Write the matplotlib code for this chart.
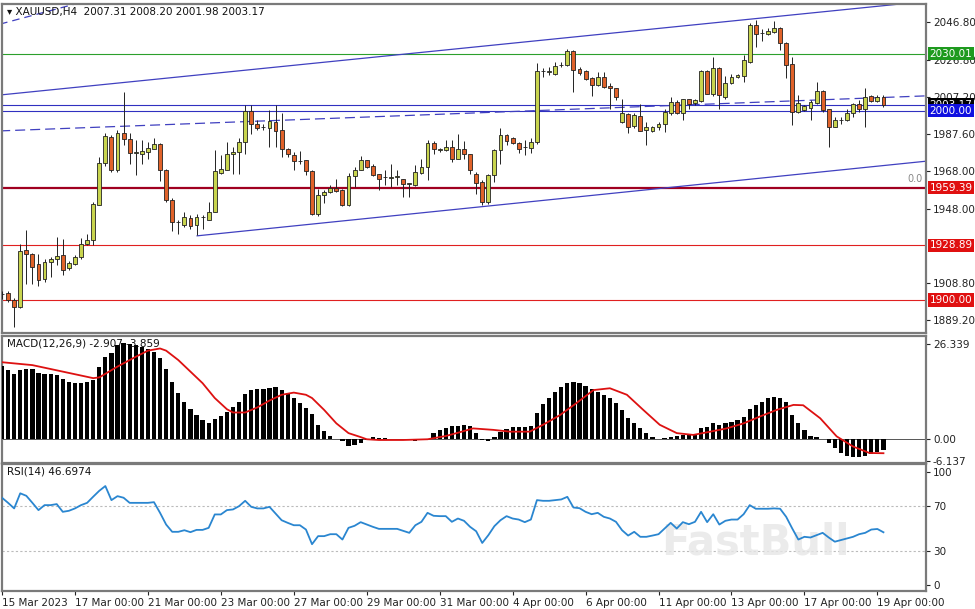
import matplotlib
matplotlib.use("Agg")
import matplotlib.pyplot as plt
import numpy as np

opens = [1903.0,1903.6,1900.1,1896.3,1926.2,1924.4,1919.2,1911.0,1920.0,1921.8,1923.9,1917.0,1919.2,1922.7,1929.7,1931.8,1950.0,1972.6,1986.2,1968.9,
 1988.3,1984.8,1977.7,1977.0,1978.4,1980.0,1982.6,1968.9,1953.0,1941.0,1939.4,1943.5,1939.4,1943.6,1942.4,1946.5,1967.1,1968.9,1977.0,1978.2,
 1983.5,1999.7,1992.9,1991.2,1990.6,1994.0,1989.7,1980.0,1976.5,1973.2,1973.8,1968.2,1945.6,1955.6,1957.0,1959.2,1957.9,1950.0,1965.4,1968.9,
 1973.8,1970.8,1966.4,1964.9,1964.6,1965.0,1963.8,1961.5,1960.6,1967.3,1970.3,1983.0,1979.4,1979.0,1980.9,1974.7,1979.5,1977.0,1966.8,1962.4,
 1951.8,1965.9,1979.1,1987.0,1985.8,1983.0,1980.8,1980.5,1983.5,2020.8,2020.5,2019.6,2024.0,2024.0,2031.6,2021.8,2021.0,2017.0,2013.5,2017.5,
 2012.9,2011.7,1994.1,1998.1,1991.8,1997.1,1989.7,1989.3,1991.4,1993.2,1998.5,2004.7,1998.5,2005.9,2003.8,2005.2,2020.9,2008.7,2022.3,2007.3,
 2014.7,2017.5,2018.2,2025.8,2045.2,2041.0,2040.5,2041.7,2043.5,2035.9,2024.6,1999.4,2000.3,2001.6,2004.1,2010.5,2000.6,1991.4,1995.0,1995.0,
 1998.5,2003.4,2001.1,2007.6,2005.2,2007.31]
highs = [1905.0,1905.0,1901.0,1929.7,1937.1,1924.8,1924.1,1921.8,1922.7,1933.3,1932.4,1920.6,1923.6,1932.9,1935.0,1951.8,1975.6,1988.0,1987.0,1990.0,
 2009.9,1988.3,1984.4,1984.4,1983.5,1985.3,1983.0,1969.4,1954.0,1942.4,1946.5,1944.7,1945.6,1944.7,1951.8,1979.1,1976.5,1983.5,1980.9,1985.3,
 2002.9,2002.9,1995.0,1993.2,2000.3,2002.9,1998.5,1980.5,1978.2,1978.7,1974.0,1968.9,1958.8,1958.0,1960.6,1963.8,1958.8,1967.1,1970.3,1975.9,
 1974.2,1972.0,1966.8,1968.5,1972.0,1968.9,1964.1,1961.9,1971.2,1974.7,1984.4,1984.0,1980.5,1984.4,1984.4,1987.5,1984.0,1977.3,1967.6,1963.2,
 1966.8,1980.0,1990.6,1987.9,1986.1,1983.5,1984.4,1985.3,2024.9,2022.3,2023.2,2025.8,2025.8,2032.3,2032.0,2023.2,2021.4,2017.5,2020.6,2020.6,
 2014.7,2012.2,2006.4,1998.8,1998.5,2003.4,1994.0,1992.0,1994.0,2001.1,2007.3,2005.5,2006.4,2006.4,2006.0,2021.4,2021.4,2028.1,2023.2,2018.2,
 2019.3,2019.5,2029.3,2046.1,2047.9,2042.9,2043.5,2047.5,2044.0,2036.4,2028.1,2008.2,2003.0,2005.5,2015.2,2010.8,2001.1,1996.4,1996.7,2001.1,
 2003.8,2005.5,2011.7,2008.2,2008.2,2008.20]
lows = [1900.5,1898.9,1885.7,1896.0,1908.6,1908.6,1907.3,1909.5,1912.1,1918.3,1913.0,1915.6,1918.3,1921.8,1929.0,1929.0,1950.0,1971.0,1967.5,1967.5,
 1981.7,1972.0,1965.9,1972.0,1974.7,1979.5,1963.0,1951.8,1936.4,1935.0,1938.5,1937.7,1934.1,1937.3,1942.0,1946.5,1966.8,1968.5,1966.8,1966.8,
 1977.3,1987.9,1990.0,1989.7,1980.9,1980.9,1975.6,1975.6,1968.9,1972.0,1965.9,1944.7,1944.2,1951.0,1956.5,1957.0,1949.5,1949.5,1959.7,1968.5,
 1969.9,1965.5,1958.3,1960.6,1959.7,1960.6,1954.4,1954.4,1960.1,1966.8,1963.2,1977.3,1978.0,1978.7,1973.0,1974.5,1974.7,1966.4,1956.2,1950.0,
 1950.9,1962.4,1972.0,1981.7,1982.3,1977.7,1976.5,1977.7,1982.6,2017.5,2018.8,2018.8,2023.2,2023.5,2010.0,2018.8,2016.4,2007.7,2013.0,2011.7,
 2001.1,2005.5,1993.6,1988.3,1990.6,1989.0,1981.7,1988.5,1990.0,1988.8,1997.6,1998.1,1995.3,2001.1,2003.0,2004.7,2008.7,2007.7,2001.1,2006.4,
 2014.2,2017.0,2015.2,2025.0,2033.8,2036.9,2039.9,2041.2,2032.0,2017.0,1992.3,1998.5,1999.8,1995.3,2003.4,1999.4,1980.9,1991.1,1992.9,1994.6,
 1996.7,1999.4,1991.1,2004.7,2004.7,2001.98]
closes = [1903.0,1899.8,1896.3,1925.9,1924.1,1917.7,1910.7,1919.9,1921.8,1923.2,1916.0,1919.8,1922.7,1929.7,1931.8,1950.5,1972.6,1986.5,1968.9,1988.3,
 1984.8,1977.7,1977.9,1978.7,1980.5,1982.6,1968.5,1952.6,1941.2,1941.2,1943.8,1938.9,1943.8,1944.0,1946.5,1968.2,1969.4,1977.0,1978.2,1983.5,
 1999.7,1993.2,1990.6,1991.4,1994.4,1989.3,1980.0,1977.3,1973.3,1973.4,1968.2,1945.6,1955.6,1957.3,1959.2,1957.4,1950.0,1965.4,1968.9,1973.8,
 1970.3,1965.9,1964.1,1965.1,1964.7,1965.1,1961.1,1961.6,1967.6,1970.3,1983.0,1979.5,1979.5,1980.9,1974.7,1980.0,1977.0,1968.9,1961.8,1951.8,
 1965.9,1979.1,1987.0,1984.0,1983.0,1980.0,1980.9,1983.5,2020.9,2020.9,2020.6,2023.5,2024.1,2031.6,2021.4,2020.0,2016.8,2013.5,2017.5,2012.6,
 2011.7,2007.3,1998.5,1991.4,1997.6,1989.3,1991.4,1991.4,1993.2,1999.4,2004.7,1998.5,2005.9,2003.4,2005.5,2020.9,2009.0,2022.3,2008.2,2014.7,
 2017.5,2018.8,2026.7,2045.2,2040.5,2041.2,2042.2,2043.5,2035.9,2024.0,1999.4,2004.1,2002.3,2004.7,2010.5,2000.3,1991.4,1995.3,1995.1,1998.5,
 2003.4,2001.1,2007.3,2005.2,2007.3,2003.17]

macd = [20.3,19.2,18.0,19.2,19.5,19.3,18.4,18.1,18.1,17.7,16.6,15.9,15.5,15.5,15.7,16.4,19.9,22.8,23.8,26.1,
 26.5,26.3,26.1,25.6,24.9,24.2,22.4,19.3,15.9,12.7,10.4,8.3,6.7,5.3,4.4,5.5,6.4,7.6,9.0,10.4,
 12.5,13.5,13.8,14.0,14.1,14.4,13.6,12.7,11.3,9.9,8.6,7.0,3.9,2.2,0.9,0.0,-0.55,-1.8,-1.7,-1.1,
 -0.2,0.55,0.4,0.4,0.0,0.0,0.0,0.2,-0.55,-0.2,0.0,1.7,2.6,3.1,3.7,3.7,3.9,3.68,1.84,-0.18,
 -0.37,0.55,2.12,2.95,3.31,3.5,3.5,3.68,7.18,9.76,11.5,13.1,14.4,15.5,15.7,15.5,14.7,13.8,13.2,12.3,
 11.3,10.0,8.15,5.94,4.47,2.99,1.70,0.59,0.04,0.22,0.59,0.77,1.14,1.33,1.51,3.08,3.26,4.46,4.0,4.46,
 4.83,5.2,6.12,8.3,9.5,10.4,11.4,11.6,11.4,10.2,6.7,4.5,2.5,1.0,0.6,0.0,-1.1,-2.5,-3.7,-4.6,
 -4.8,-4.8,-4.6,-4.1,-3.5,-2.907]
sig_x = [0,5,10,15,16,19,22,24,26,27,29,31,33,35,37,38,40,42,44,46,48,50,51,53,55,57,59,60,62,66,70,71,73,75,77.5,
 80.8,83.6,86.8,89,91.8,94.5,97.3,100,102.8,105.5,108.2,111,113.7,116.5,119.2,122,124.7,127.4,130.2,131.8,134.6,137.3,140,142.7,145]
sig_y = [21.3,20.5,18.7,16.9,17.1,20.1,22.8,24.5,25.1,24.5,21.9,18.7,15.5,11.4,8.3,7.4,7.4,8.8,10.7,12.3,12.9,12.3,11.4,8.1,4.4,1.7,0.6,0.0,-0.2,-0.2,0.0,0.3,0.9,1.8,3.0,
 2.6,2.1,2.1,4.0,6.7,10.0,13.6,14.1,12.3,8.1,4.0,1.7,1.2,2.1,3.0,4.4,6.3,8.1,9.5,9.4,5.8,0.8,-2.0,-3.8,-3.859]
rsi = [77.1,72.6,67.7,81.0,78.8,72.6,66.2,70.6,70.6,71.5,64.7,65.6,67.7,70.6,72.6,78.0,83.2,87.4,75.0,78.5,
 77.1,72.6,72.6,72.6,72.6,73.2,63.8,53.5,47.1,47.1,48.5,46.8,48.8,48.8,50.6,62.4,62.4,66.2,66.8,69.7,
 74.4,69.1,67.7,67.7,69.1,63.2,57.3,55.0,52.9,52.9,49.1,36.2,43.3,43.3,45.0,45.0,40.3,50.6,52.4,55.6,
 53.5,51.5,49.7,49.7,49.7,49.7,47.9,46.2,52.9,55.9,63.8,61.2,60.9,60.9,55.9,58.8,56.8,51.5,47.6,37.3,
 44.1,52.1,57.3,60.9,58.8,57.9,55.6,57.9,75.0,74.4,74.4,75.0,75.6,77.9,68.5,67.9,64.7,62.6,63.8,60.3,
 58.8,55.9,48.5,43.8,47.1,42.7,42.7,43.8,45.0,50.0,55.0,50.0,55.6,53.8,55.9,64.7,55.6,62.6,53.5,56.8,
 57.9,57.9,62.6,70.6,67.4,67.4,67.4,67.7,67.4,60.3,50.0,40.3,42.7,42.1,44.1,46.2,42.1,38.4,39.8,41.3,
 42.7,45.0,46.2,49.1,49.6,46.7]

tick_bars = [0,12,24,36,48,60,72,84,96,108,120,132,144]
tick_labels = ['15 Mar 2023','17 Mar 00:00','21 Mar 00:00','23 Mar 00:00','27 Mar 00:00','29 Mar 00:00','31 Mar 00:00',
               '4 Apr 00:00','6 Apr 00:00','11 Apr 00:00','13 Apr 00:00','17 Apr 00:00','19 Apr 00:00']
price_ticks = [2046.80,2026.80,2007.20,1987.60,1968.00,1948.00,1908.80,1889.20]
hlines = [(2030.01,'#2ca02c','#1e9a1e',0.8),(2003.17,'#3030c0','#000000',0.8),(2000.00,'#3030c0','#1010e0',0.8),
          (1959.39,'#a00020','#e01010',1.6),(1928.89,'#e02020','#e01010',0.8),(1900.00,'#e02020','#e01010',0.8)]

plt.rcParams['font.family'] = ['DejaVu Sans']
fig = plt.figure(figsize=(9.75,6.09), dpi=100)
L, W = 2/975, 924/975
ax = fig.add_axes([L, 1-333/609, W, 329/609])
am = fig.add_axes([L, 1-462.7/609, W, 126.7/609])
ar = fig.add_axes([L, 1-591/609, W, 127/609])
XMAX = 152
bull, bear = '#c8d44e', '#e0622a'
fs = 7.5

for a in (ax, am, ar):
    a.set_xlim(0, XMAX)
    for s in a.spines.values():
        s.set_color('#7a7a7a'); s.set_linewidth(1.6)
    a.yaxis.tick_right()
    a.tick_params(axis='y', labelsize=fs, length=3, pad=2, colors='#222222')
    a.tick_params(axis='x', length=0, labelbottom=False)
    a.set_xticks([])

# price panel
ax.set_ylim(1882.6, 2056.3)
n = len(closes)
for i in range(n):
    o, h, l, c = opens[i], highs[i], lows[i], closes[i]
    col = bull if c >= o else bear
    ax.vlines(i, l, h, color='#222222', lw=0.7, zorder=3)
    bh = max(abs(c-o), 0.25)
    ax.add_patch(plt.Rectangle((i-0.32, min(o, c)), 0.64, bh, facecolor=col, edgecolor='#222222', lw=0.6, zorder=4))
for y, lc, bc, lw in hlines:
    ax.axhline(y, color=lc, lw=lw, zorder=2)
ax.plot([-0.5, 149.6], [2008.2, 2056.9], color='#4040c0', lw=0.9, zorder=2)
ax.plot([-0.3, 14], [2045.7, 2058], color='#4040c0', lw=0.9, ls=(0,(6,4)), zorder=2)
ax.plot([32.1, 152], [1933.9, 1973.3], color='#4040c0', lw=0.9, zorder=2)
ax.plot([-0.3, 152], [1989.3, 2007.8], color='#4040c0', lw=0.9, ls=(0,(8,4)), zorder=2)
ax.set_yticks(price_ticks)
ax.set_yticklabels([f'{v:.2f}' for v in price_ticks])
for y, lc, bc, lw in hlines:
    ax.text(1.004, y, f'{y:.2f}', transform=ax.get_yaxis_transform(), fontsize=fs, color='white', va='center', ha='left',
            bbox=dict(boxstyle='square,pad=0.15', fc=bc, ec='none'), zorder=10, clip_on=False)
ax.text(151.5, 1961.2, '0.0', color='#888888', fontsize=7, ha='right', va='bottom')
ax.text(0.8, 2054.5, '\u25BE XAUUSD,H4  2007.31 2008.20 2001.98 2003.17', fontsize=fs, va='top', color='#111111')

# MACD
am.set_ylim(-6.48, 28.55)
idx = np.arange(len(macd))
am.bar(idx, macd, width=0.7, color='black', zorder=3)
am.axhline(0, color='#555555', lw=0.7, zorder=2)
am.plot(sig_x, sig_y, color='#dd1111', lw=1.3, zorder=4)
am.set_yticks([26.339, 0.0, -6.137])
am.set_yticklabels(['26.339', '0.00', '-6.137'])
am.text(0.8, 27.8, 'MACD(12,26,9) -2.907 -3.859', fontsize=fs, va='top', color='#111111')

# RSI
ar.set_ylim(-5, 106.8)
ar.plot(np.arange(len(rsi)), rsi, color='#2a86d0', lw=1.3, zorder=3)
for lv in (70, 30):
    ar.axhline(lv, color='#bbbbbb', lw=0.8, ls=(0,(2,2)), zorder=1)
ar.set_yticks([100, 70, 30, 0])
ar.text(0.8, 104.5, 'RSI(14) 46.6974', fontsize=fs, va='top', color='#111111')
ar.text(0.815, 0.38, 'FastBull', transform=ar.transAxes, fontsize=30, fontweight='bold', color='#e6e6e6',
        alpha=0.8, ha='center', va='center', zorder=2)
ar.set_xticks(tick_bars)
ar.set_xticklabels(tick_labels, ha='left')
ar.tick_params(axis='x', labelbottom=True, labelsize=fs, length=3, pad=2, colors='#222222')

fig.savefig('out.png', dpi=100)
